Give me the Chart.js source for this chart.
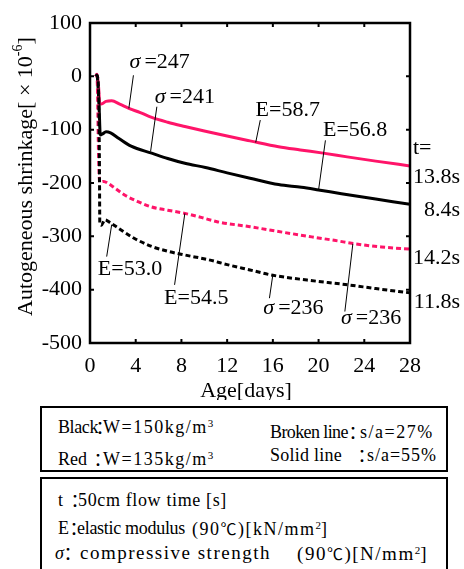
<!DOCTYPE html>
<html>
<head>
<meta charset="utf-8">
<script src="https://cdn.jsdelivr.net/npm/chart.js@4/dist/chart.umd.min.js"></script>
<style>
  body { margin: 0; background: #fff; }
  #wrap { position: relative; width: 464px; height: 569px; overflow: hidden; background: #fff;
          font-family: "Liberation Serif", "Times New Roman", serif; color: #000; }
  #chart { position: absolute; left: 0; top: 0; }
  .box { position: absolute; left: 40px; width: 408px; border: 2px solid #000; box-sizing: border-box; }
  .t { position: absolute; font-family: "Liberation Serif", "Times New Roman", serif; font-size: 18px;
       line-height: 18px; white-space: nowrap; }
  .t sup { font-size: 11px; vertical-align: 6px; line-height: 0; letter-spacing: 0; }
  .big { font-size: 19px; }
  .col { font-family: "Noto Sans CJK JP", sans-serif; width: 18px; text-align: center; }
  .sig { font-style: italic; }
  .deg { font-family: "Noto Sans CJK JP", "Noto Sans", sans-serif; font-size: 16px; }
</style>
</head>
<body>
<div id="wrap">
  <canvas id="chart" width="464" height="400"></canvas>
  <div class="box" style="top:406px; height:66px;"></div>
  <div class="box" style="top:477px; height:120px;"></div>
</div>

<script>
/* 데이터 : 재령(일), 자기수축(×10^-6) */
const blackSolidDays = [0.5, 0.6, 0.8, 0.9, 1.1, 1.4, 1.8, 2.5, 3.6, 5.4, 6.8, 8.3, 10.1, 12, 14, 16.5, 18.5, 20, 22, 25, 28];
const blackSolidVals = [0, 3, -60, -110, -108, -104, -106, -116, -131, -144, -154, -163, -171, -181, -191, -203, -208, -213, -220, -230, -240];

const redSolidDays = [0.5, 0.6, 0.75, 0.85, 1.0, 1.4, 1.9, 2.6, 3.4, 4.4, 5.4, 6.8, 8.3, 10.1, 12, 14, 16.5, 18.4, 20.4, 22.5, 25, 28];
const redSolidVals = [0, 4, -20, -50, -52, -47, -46, -52, -60, -68, -77, -86, -94, -103, -112, -121, -132, -138, -144, -151, -159, -168];

const redDashDays = [0.5, 0.6, 0.65, 0.75, 0.85, 1.2, 1.6, 2.2, 3.06, 4.2, 5.4, 6.8, 8.3, 9.8, 11.2, 14, 16.5, 19.4, 21.5, 23.2, 25.5, 28];
const redDashVals = [0, 3, -20, -150, -198, -197, -201, -210, -223, -235, -245, -251, -257, -265, -273, -282, -291, -301, -308, -314, -320, -324];

const blackDashDays = [0.5, 0.6, 0.75, 0.82, 0.86, 1.0, 1.3, 1.8, 2.5, 3.9, 5.4, 6.8, 8.3, 10.4, 12, 14, 16, 19, 22.6, 25, 28];
const blackDashVals = [0, 2, -30, -150, -276, -279, -269, -275, -285, -304, -319, -328, -335, -344, -353, -363, -373, -382, -391, -398, -406];

// 축 눈금
const xTickStep = 4;
const yTickStep = 100;

// 주석 (곡선 라벨과 지시선, 데이터 좌표)
const noteSym = ['σ', 'σ', 'E', 'E', 'E', 'E', 'σ', 'σ'];
const noteVal = ['=247', '=241', '=58.7', '=56.8', '=53.0', '=54.5', '=236', '=236'];
const noteDay = [6.1, 8.3, 17.3, 23.2, 3.5, 9.3, 17.8, 24.6];
const noteY = [27, -39, -63, -101, -361, -416, -435, -454];
const leadFrom = [[3.8, 2], [5.85, -57], [14.9, -82], [20.6, -120], [1.46, -338], [7.4, -391], [15.7, -416], [22.3, -441]];
const leadTo = [[3.4, -60], [5.3, -141], [14.5, -124], [20.0, -213], [1.9, -278], [8.3, -257], [16.0, -372], [23.0, -314]];

// 우측 유동시간 라벨
const flowTimes = ['13.8s', '8.4s', '14.2s', '11.8s'];
const flowTimeAt = [-189, -251, -341, -423];

const RED = '#ff1469';
const FONT = '"Liberation Serif", "Times New Roman", serif';

function pts(days, vals) {
  return days.map((d, i) => ({ x: d, y: vals[i] }));
}

/* 범례 박스 텍스트 : [html, 왼쪽, 오른쪽(폭 맞춤, 0이면 그대로), 중심 y, 클래스] */
const legendItems = [
  ['Black', 58, 98, 427, ''],
  ['：', 91, 0, 427, 'col'],
  ['W=150kg/m<sup>3</sup>', 103, 222, 427, ''],
  ['Red', 58, 0, 459, ''],
  ['：', 89, 0, 459, 'col'],
  ['W=135kg/m<sup>3</sup>', 103, 222, 459, ''],
  ['Broken line', 270, 347, 432, ''],
  ['：', 344, 0, 432, 'col'],
  ['s/a=27%', 360, 435, 432, ''],
  ['Solid line', 270, 342, 455, ''],
  ['：', 353, 0, 455, 'col'],
  ['s/a=55%', 367, 437, 455, ''],
  ['t', 58, 0, 500, ''],
  ['：', 66, 0, 500, 'col'],
  ['50cm flow time [s]', 78, 227, 500, ''],
  ['E', 58, 0, 528, ''],
  ['：', 65, 0, 528, 'col'],
  ['elastic modulus', 77, 185, 528, ''],
  ['(90<span class="deg">℃</span>)[kN/mm<sup>2</sup>]', 192, 338, 528, ''],
  ['σ', 55, 0, 553, 'sig'],
  ['：', 59, 0, 553, 'col'],
  ['compressive strength', 80, 283, 553, 'big'],
  ['(90<span class="deg">℃</span>)[N/mm<sup>2</sup>]', 290, 428, 553, 'big']
];

// 글자 간격으로 폭 맞춤 (조금만)
const wrap = document.getElementById('wrap');
legendItems.forEach(it => {
  const s = document.createElement('span');
  s.className = 't ' + it[4];
  s.innerHTML = it[0];
  s.style.left = it[1] + 'px';
  s.style.top = (it[3] - 9) + 'px';
  wrap.appendChild(s);
  if (it[2] > 0) {
    const w = s.getBoundingClientRect().width;
    const n = s.textContent.length;
    let ls = (it[2] - it[1] - w) / n;
    ls = Math.max(-0.6, Math.min(1.5, ls));
    s.style.letterSpacing = ls.toFixed(2) + 'px';
    // 오른쪽 끝 맞춤이 더 중요한 조각은 왼쪽을 당김
    if (it[4] === 'big') {
      const w2 = s.getBoundingClientRect().width;
      if (it[1] > 200) s.style.left = (it[2] - w2) + 'px';
    }
  }
});

// 테두리, 안쪽 눈금, 축 제목, 주석
const paperPlugin = {
  id: 'paper',
  afterDraw(chart) {
    const { ctx, chartArea: a, scales: { x, y } } = chart;
    ctx.save();
    ctx.strokeStyle = '#000';
    ctx.fillStyle = '#000';

    // 틀
    ctx.lineWidth = 2.5;
    ctx.strokeRect(a.left, a.top, a.right - a.left, a.bottom - a.top);

    // 안쪽 눈금
    ctx.lineWidth = 2;
    ctx.beginPath();
    x.ticks.forEach(t => {
      const px = x.getPixelForValue(t.value);
      ctx.moveTo(px, a.bottom); ctx.lineTo(px, a.bottom - 4);
      ctx.moveTo(px, a.top); ctx.lineTo(px, a.top + 4);
    });
    y.ticks.forEach(t => {
      const py = y.getPixelForValue(t.value);
      ctx.moveTo(a.left, py); ctx.lineTo(a.left + 4, py);
      ctx.moveTo(a.right, py); ctx.lineTo(a.right - 4, py);
    });
    ctx.stroke();

    // 지시선
    ctx.lineWidth = 1;
    ctx.beginPath();
    leadFrom.forEach((f, i) => {
      ctx.moveTo(x.getPixelForValue(f[0]), y.getPixelForValue(f[1]));
      ctx.lineTo(x.getPixelForValue(leadTo[i][0]), y.getPixelForValue(leadTo[i][1]));
    });
    ctx.stroke();

    // 주석 텍스트
    ctx.textBaseline = 'middle';
    noteSym.forEach((s, i) => {
      const symFont = (s === 'σ' ? 'italic ' : '') + '22px ' + FONT;
      ctx.font = symFont;
      const w1 = ctx.measureText(s).width;
      const gap = s === 'σ' ? 4 : 0;
      ctx.font = '22px ' + FONT;
      const w2 = ctx.measureText(noteVal[i]).width;
      const cx = x.getPixelForValue(noteDay[i]);
      const cy = y.getPixelForValue(noteY[i]);
      let sx = cx - (w1 + gap + w2) / 2;
      ctx.textAlign = 'left';
      ctx.font = symFont;
      ctx.fillText(s, sx, cy);
      ctx.font = '22px ' + FONT;
      ctx.fillText(noteVal[i], sx + w1 + gap, cy);
    });

    // 유동시간
    ctx.font = '22px ' + FONT;
    ctx.textAlign = 'left';
    ctx.fillText('t=', a.right + 3, y.getPixelForValue(-135));
    ctx.textAlign = 'right';
    flowTimes.forEach((s, i) => {
      ctx.fillText(s, a.right + 50, y.getPixelForValue(flowTimeAt[i]));
    });

    // x축 제목
    ctx.textAlign = 'center';
    ctx.fillText('Age[days]', (a.left + a.right) / 2 - 4, a.bottom + 48);

    // y축 제목 (회전)
    ctx.translate(a.left - 64, a.bottom - 27);
    ctx.rotate(-Math.PI / 2);
    ctx.textAlign = 'left';
    let px = 0;
    const main = 'Autogeneous shrinkage[ × 10';
    ctx.fillText(main, px, 0);
    px += ctx.measureText(main).width;
    ctx.font = '14px ' + FONT;
    ctx.fillText('-6', px, -8);
    px += ctx.measureText('-6').width;
    ctx.font = '22px ' + FONT;
    ctx.fillText(']', px, 0);

    ctx.restore();
  }
};

new Chart(document.getElementById('chart'), {
  type: 'line',
  data: {
    datasets: [
      { data: pts(blackDashDays, blackDashVals), borderColor: '#000', borderDash: [5, 3] },
      { data: pts(redDashDays, redDashVals), borderColor: RED, borderDash: [5, 3] },
      { data: pts(blackSolidDays, blackSolidVals), borderColor: '#000' },
      { data: pts(redSolidDays, redSolidVals), borderColor: RED }
    ]
  },
  options: {
    responsive: false,
    animation: false,
    devicePixelRatio: 1,
    layout: { padding: { left: 0, right: 54, top: 23, bottom: 0 } },
    datasets: {
      line: { borderWidth: 3, pointRadius: 0, fill: false, cubicInterpolationMode: 'monotone' }
    },
    plugins: {
      legend: { display: false },
      tooltip: { enabled: false }
    },
    scales: {
      x: {
        type: 'linear', min: 0, max: 28,
        afterFit(s) { s.height = 57; },
        grid: { display: false, drawTicks: false },
        border: { display: false },
        ticks: { stepSize: xTickStep, padding: 10, color: '#000', maxRotation: 0, autoSkip: false,
                 font: { family: FONT, size: 22 } }
      },
      y: {
        type: 'linear', min: -500, max: 100,
        afterFit(s) { s.width = 90; },
        grid: { display: false, drawTicks: false },
        border: { display: false },
        ticks: { stepSize: yTickStep, padding: 8, color: '#000', autoSkip: false,
                 font: { family: FONT, size: 22 } }
      }
    }
  },
  plugins: [paperPlugin]
});
</script>
</body>
</html>
